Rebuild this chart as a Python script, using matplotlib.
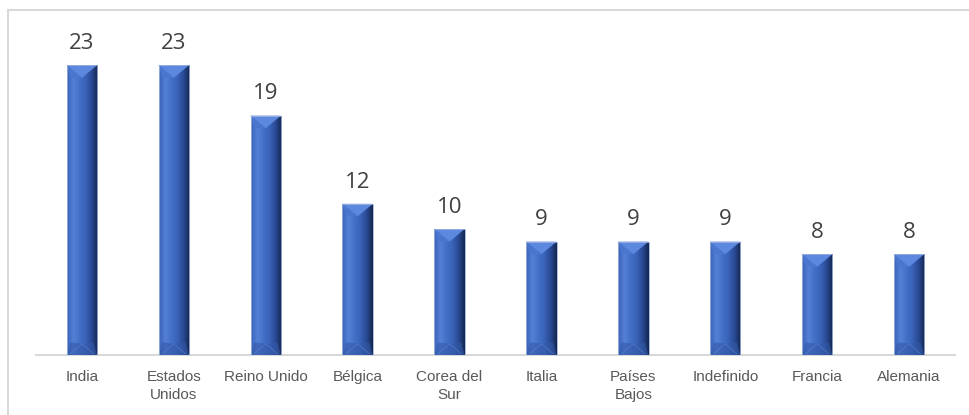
import matplotlib.pyplot as plt
import numpy as np
from matplotlib.colors import LinearSegmentedColormap
from matplotlib.patches import Polygon, Rectangle

countries = ["India", "Estados\nUnidos", "Reino Unido", "Bélgica", "Corea del\nSur",
             "Italia", "Países\nBajos", "Indefinido", "Francia", "Alemania"]
counts = [23, 23, 19, 12, 10, 9, 9, 9, 8, 8]

fig = plt.figure(figsize=(9.69, 4.15), dpi=100)
ax = fig.add_axes([36 / 969, 60 / 415, 919 / 969, 335 / 415])

# outer chart frame (light grey, cropped on right/bottom)
fig.patches.append(Rectangle((8 / 969, -0.1), 1.2, (415 - 10) / 415 + 0.1,
                             transform=fig.transFigure, fill=False,
                             edgecolor="#d9d9d9", linewidth=1.5))

x = np.arange(len(countries))
bars = ax.bar(x, counts, width=0.33, color="#3d66c0", zorder=2)

# horizontal gradient to imitate the bevelled Excel bar
grad = LinearSegmentedColormap.from_list(
    "bevel", ["#3a62b8", "#5580d6", "#4470c8", "#3a62b8", "#2a4a94", "#142650"])
g = np.linspace(0, 1, 64).reshape(1, -1)

for b in bars:
    x0, w, h = b.get_x(), b.get_width(), b.get_height()
    x1, xc = x0 + w, x0 + w / 2
    im = ax.imshow(g, cmap=grad, extent=[x0, x1, 0, h], aspect="auto", zorder=3)
    im.set_clip_path(b)
    d = 1.0
    # top facet
    ax.add_patch(Polygon([(x0, h), (x1, h), (xc, h - d)], closed=True,
                         facecolor="#5d88e0", edgecolor="none", zorder=4))
    ax.add_patch(Polygon([(x0, h), (xc, h - d), (x0 + w * 0.12, h - d)], closed=True,
                         facecolor="#4a76d0", edgecolor="none", zorder=4))
    # bottom facet
    ax.add_patch(Polygon([(x0, 0), (x1, 0), (x1 - w * 0.12, d), (xc, d * 0.9),
                          (x0 + w * 0.12, d)], closed=True,
                         facecolor="#3359a8", alpha=0.6, edgecolor="none", zorder=4))
    ax.plot([x0 + w * 0.12, xc, x1 - w * 0.12], [0.1, d * 0.9, 0.1],
            color="#5b80c8", linewidth=0.6, alpha=0.7, zorder=5)
    ax.add_patch(Rectangle((x0, 0), w, h, fill=False, edgecolor="#9fb4dc",
                           linewidth=0.6, zorder=6))
    ax.annotate(f"{h:g}", (xc, h), xytext=(0, 8), textcoords="offset points",
                ha="center", va="bottom", fontsize=16, color="#404040",
                family="Open Sans")

ax.set_xlim(-0.5, len(countries) - 0.5)
ax.set_ylim(0, 335 / 12.6)
ax.set_xticks(x)
ax.set_xticklabels(countries, fontsize=11, color="#595959", family="Liberation Sans",
                   linespacing=1.35)
ax.tick_params(axis="x", length=0, pad=11)
ax.set_yticks([])
for s in ["top", "right", "left"]:
    ax.spines[s].set_visible(False)
ax.spines["bottom"].set_color("#d9d9d9")
ax.spines["bottom"].set_linewidth(1.5)

fig.savefig("out.png", dpi=100)
